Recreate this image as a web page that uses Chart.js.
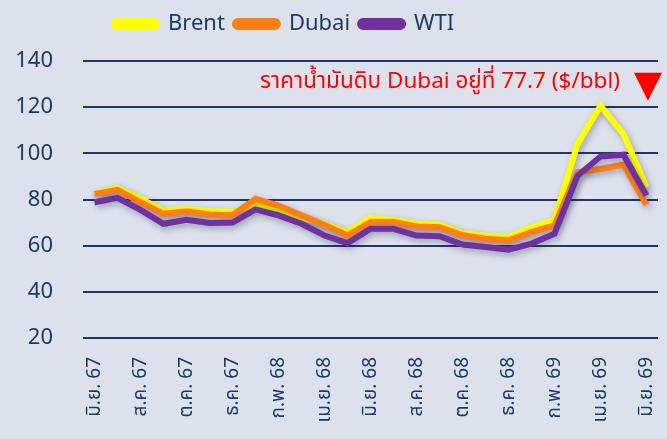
<!DOCTYPE html>
<html>
<head>
<meta charset="utf-8">
<script src="https://cdn.jsdelivr.net/npm/chart.js@4"></script>
<style>
  body { margin: 0; background: #dde1ec; }
  #wrap { width: 667px; height: 439px; }
</style>
</head>
<body>
<div id="wrap"><canvas id="oilChart"></canvas></div>
<script>
// months (Jun 67 .. Jun 69), one point per month, labels shown every 2nd month
const months = ['มิ.ย. 67', 'ก.ค. 67', 'ส.ค. 67', 'ก.ย. 67', 'ต.ค. 67', 'พ.ย. 67', 'ธ.ค. 67',
  'ม.ค. 68', 'ก.พ. 68', 'มี.ค. 68', 'เม.ย. 68', 'พ.ค. 68', 'มิ.ย. 68', 'ก.ค. 68', 'ส.ค. 68',
  'ก.ย. 68', 'ต.ค. 68', 'พ.ย. 68', 'ธ.ค. 68', 'ม.ค. 69', 'ก.พ. 69', 'มี.ค. 69', 'เม.ย. 69',
  'พ.ค. 69', 'มิ.ย. 69'];

const brent = [82.6, 85.0, 80.5, 75.2, 76.0, 75.0, 74.7, 78.0, 76.0, 72.3, 69.5, 65.9, 72.1,
  71.2, 69.5, 69.2, 65.5, 64.3, 63.7, 68.0, 71.2, 104.0, 120.6, 108.3, 85.3];
const dubai = [82.4, 84.2, 78.8, 73.8, 74.8, 73.5, 73.2, 80.3, 77.4, 73.2, 69.0, 64.4, 70.2,
  70.2, 68.3, 68.0, 64.5, 63.0, 62.3, 65.9, 68.8, 91.8, 93.2, 95.1, 77.7];
const wti = [78.8, 80.7, 75.5, 69.5, 71.2, 69.8, 70.0, 75.7, 73.1, 69.5, 64.4, 61.1, 67.3,
  67.3, 64.4, 64.1, 60.5, 59.4, 58.3, 60.9, 65.2, 90.3, 98.6, 99.4, 81.7];

const yTicks = [20, 40, 60, 80, 100, 120, 140];
const noteText = 'ราคาน้ำมันดิบ Dubai อยู่ที่ 77.7 ($/bbl)';

const navy = '#1f3864';
const fontFam = '"Noto Sans", "Noto Sans Thai", Lato, sans-serif';

// soft drop shadow under the lines
const lineShadow = {
  id: 'lineShadow',
  beforeDatasetDraw(chart) {
    const ctx = chart.ctx;
    ctx.save();
    ctx.shadowColor = 'rgba(30, 40, 70, 0.35)';
    ctx.shadowBlur = 6;
    ctx.shadowOffsetX = 2;
    ctx.shadowOffsetY = 3;
  },
  afterDatasetDraw(chart) {
    chart.ctx.restore();
  }
};

// red note + down arrow in the top right corner
const noteLabel = {
  id: 'noteLabel',
  afterDraw(chart) {
    const { ctx, chartArea } = chart;
    const y = chart.scales.y.getPixelForValue(131);
    ctx.save();
    ctx.fillStyle = '#ff0000';
    ctx.font = '22.5px ' + fontFam;
    ctx.textAlign = 'right';
    ctx.textBaseline = 'middle';
    ctx.fillText(noteText, chartArea.right - 38, y);
    const cx = chartArea.right - 10;
    ctx.beginPath();
    ctx.moveTo(cx - 14, y - 9);
    ctx.lineTo(cx + 14, y - 9);
    ctx.lineTo(cx, y + 19);
    ctx.closePath();
    ctx.fill();
    ctx.restore();
  }
};

// legend sits higher and a bit left of centre in the original
const legendShift = {
  id: 'legendShift',
  afterLayout(chart) {
    chart.legend.left += 104;
    chart.legend.top -= 16;
  }
};

const ctx = document.getElementById('oilChart').getContext('2d');
new Chart(ctx, {
  type: 'line',
  data: {
    labels: months,
    datasets: [
      { label: 'Brent', data: brent, borderColor: '#ffff00', backgroundColor: '#ffff00', order: 3 },
      { label: 'Dubai', data: dubai, borderColor: '#ff7f15', backgroundColor: '#ff7f15', order: 2 },
      { label: 'WTI', data: wti, borderColor: '#7030a0', backgroundColor: '#7030a0', order: 1 }
    ]
  },
  options: {
    responsive: true,
    maintainAspectRatio: false,
    animation: false,
    layout: { padding: { top: 19, right: 9, left: 0, bottom: 0 } },
    elements: {
      line: { borderWidth: 6, tension: 0 },
      point: { radius: 0 }
    },
    scales: {
      x: {
        offset: true,
        grid: { display: false },
        border: { display: false },
        afterFit(axis) {
          axis.height = 101;
          axis.paddingLeft = 0;
          axis.paddingRight = 0;
        },
        ticks: {
          autoSkip: false,
          maxRotation: 90,
          minRotation: 90,
          padding: 11,
          color: navy,
          font: { family: fontFam, size: 19 },
          callback(val, i) { return i % 2 === 0 ? months[i] : ''; }
        }
      },
      y: {
        min: 20,
        max: 140,
        afterBuildTicks(axis) { axis.ticks = yTicks.map(v => ({ value: v })); },
        afterFit(axis) { axis.width = 83; },
        border: { display: false },
        grid: { color: navy, lineWidth: 2, drawTicks: false },
        ticks: {
          padding: 30,
          color: navy,
          font: { family: fontFam, size: 22 }
        }
      }
    },
    plugins: {
      legend: {
        align: 'start',
        labels: {
          boxWidth: 43,
          boxHeight: 6,
          useBorderRadius: true,
          borderRadius: 3,
          padding: 10,
          color: navy,
          font: { family: fontFam, size: 22 },
          sort: (a, b) => a.datasetIndex - b.datasetIndex
        }
      },
      tooltip: { enabled: false }
    }
  },
  plugins: [lineShadow, noteLabel, legendShift]
});
</script>
</body>
</html>
